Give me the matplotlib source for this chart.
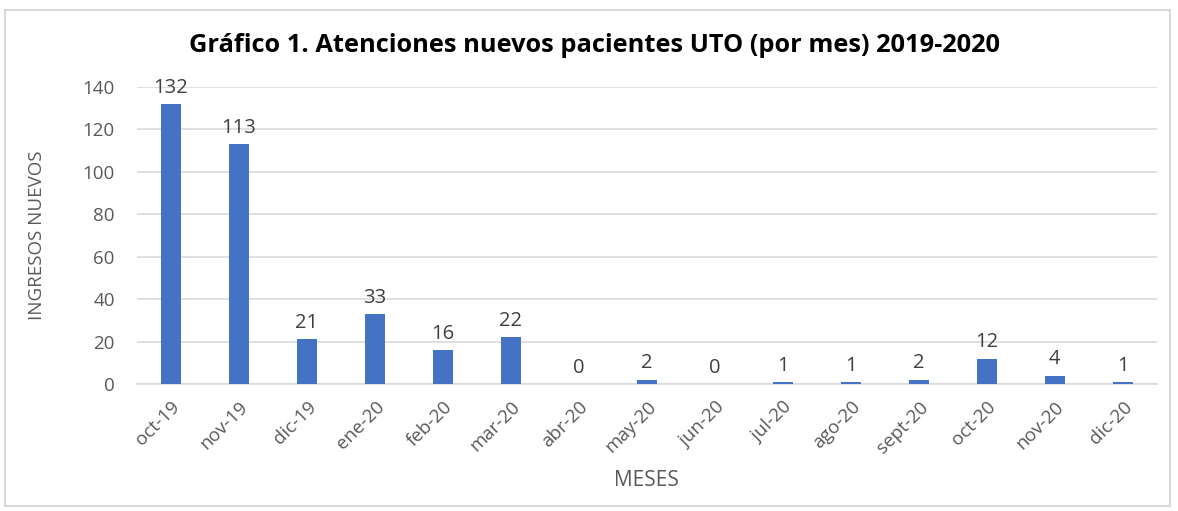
import matplotlib
matplotlib.use("Agg")
import matplotlib.pyplot as plt
from matplotlib.patches import Rectangle

months = ["oct-19", "nov-19", "dic-19", "ene-20", "feb-20", "mar-20", "abr-20",
          "may-20", "jun-20", "jul-20", "ago-20", "sept-20", "oct-20", "nov-20", "dic-20"]
ingresos = [132, 113, 21, 33, 16, 22, 0, 2, 0, 1, 1, 2, 12, 4, 1]
y_ticks = [0, 20, 40, 60, 80, 100, 120, 140]

plt.rcParams['font.family'] = ['Open Sans', 'DejaVu Sans']

fig = plt.figure(figsize=(11.78, 5.11), dpi=100)
ax = fig.add_axes([0.1163, 0.2485, 0.8657, 0.5812])

# outer chart frame
fig.patches.append(Rectangle((0.004, 0.01), 0.989, 0.97, transform=fig.transFigure,
                             fill=False, edgecolor='#d9d9d9', linewidth=1.5))

x = range(len(months))
ax.bar(x, ingresos, width=0.3, color='#4472c4', zorder=3)

for i, v in zip(x, ingresos):
    ax.text(i, v + 3, str(v), ha='center', va='bottom', fontsize=14.5,
            color='#404040', clip_on=False)

ax.set_xlim(-0.5, len(months) - 0.5)
ax.set_ylim(0, 140)
ax.set_yticks(y_ticks)
ax.set_xticks(list(x))
ax.set_xticklabels(months, rotation=45, ha='right', rotation_mode='anchor')
ax.tick_params(axis='both', length=0, labelsize=13.5, labelcolor='#595959')
ax.tick_params(axis='x', pad=10)
ax.tick_params(axis='y', pad=16)

ax.grid(axis='y', color='#d9d9d9', linewidth=1.2, zorder=0)
for s in ['top', 'right', 'left']:
    ax.spines[s].set_visible(False)
ax.spines['bottom'].set_color('#d9d9d9')
ax.spines['bottom'].set_linewidth(1.2)

ax.set_ylabel('INGRESOS NUEVOS', fontsize=13.5, color='#595959', labelpad=26)
ax.set_xlabel('MESES', fontsize=15, color='#595959', labelpad=10)

fig.text(0.505, 0.91, 'Gráfico 1. Atenciones nuevos pacientes UTO (por mes) 2019-2020',
         ha='center', va='center', fontsize=18.3, fontweight='bold', color='black')

fig.savefig('out.png', dpi=100)
